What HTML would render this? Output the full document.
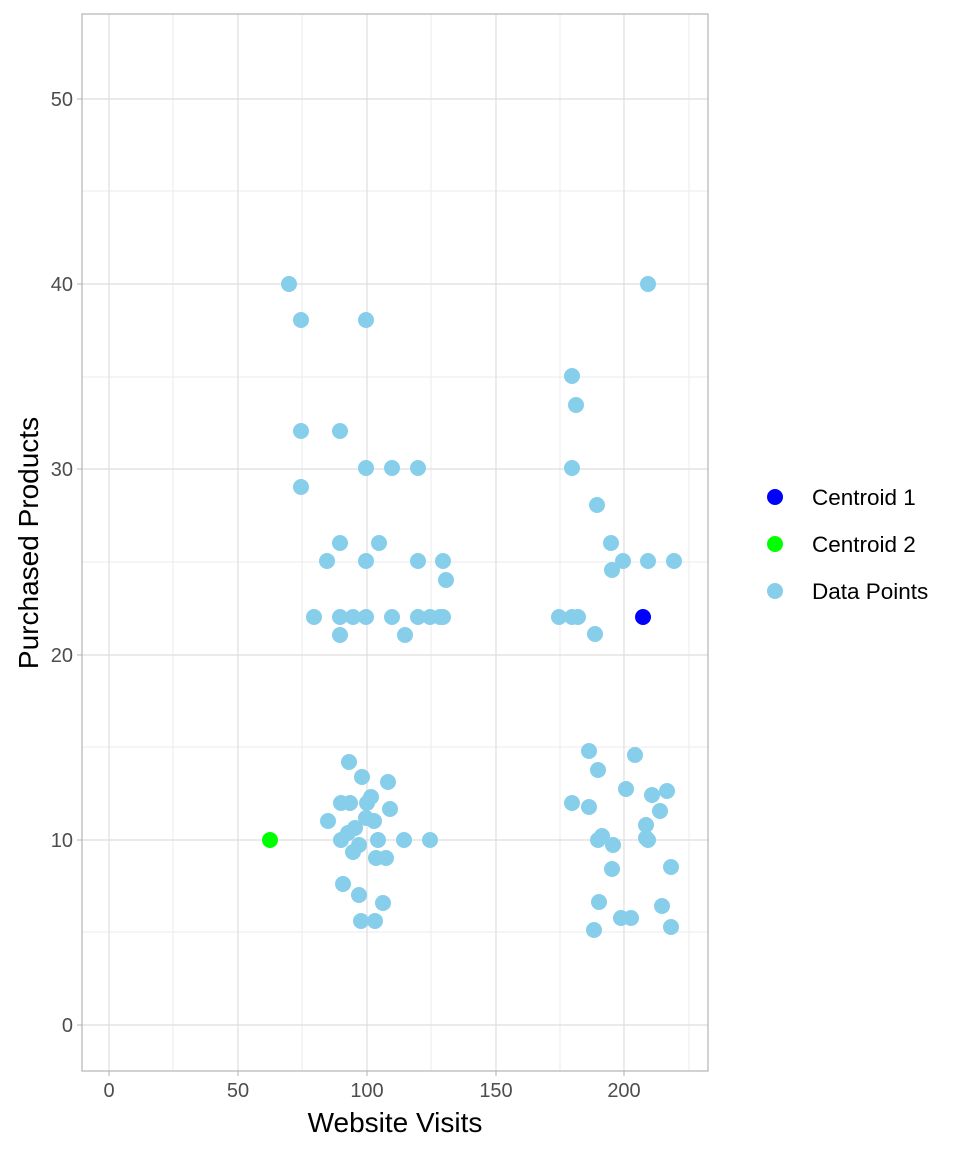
<!DOCTYPE html>
<html><head><meta charset="utf-8"><style>body{margin:0;background:#fff}</style></head><body>
<svg width="960" height="1152" xmlns="http://www.w3.org/2000/svg" font-family="Liberation Sans, sans-serif">
<rect width="960" height="1152" fill="#fff"/>
<g stroke="#ebebeb" stroke-width="1">
<line x1="82" x2="708" y1="932" y2="932"/><line x1="82" x2="708" y1="747" y2="747"/><line x1="82" x2="708" y1="562" y2="562"/><line x1="82" x2="708" y1="377" y2="377"/><line x1="82" x2="708" y1="191" y2="191"/>
<line y1="14" y2="1071" x1="173" x2="173"/><line y1="14" y2="1071" x1="302" x2="302"/><line y1="14" y2="1071" x1="431" x2="431"/><line y1="14" y2="1071" x1="560" x2="560"/><line y1="14" y2="1071" x1="689" x2="689"/>
</g>
<g stroke="#dedede" stroke-width="1.2">
<line x1="82" x2="708" y1="1025" y2="1025"/><line x1="82" x2="708" y1="840" y2="840"/><line x1="82" x2="708" y1="655" y2="655"/><line x1="82" x2="708" y1="469" y2="469"/><line x1="82" x2="708" y1="284" y2="284"/><line x1="82" x2="708" y1="99" y2="99"/>
<line y1="14" y2="1071" x1="109" x2="109"/><line y1="14" y2="1071" x1="238" x2="238"/><line y1="14" y2="1071" x1="367" x2="367"/><line y1="14" y2="1071" x1="496" x2="496"/><line y1="14" y2="1071" x1="624" x2="624"/>
</g>
<rect x="82" y="14" width="626" height="1057" fill="none" stroke="#b3b3b3" stroke-width="1.2"/>
<g stroke="#b3b3b3"><line x1="109" x2="109" y1="1071" y2="1076"/><line x1="238" x2="238" y1="1071" y2="1076"/><line x1="367" x2="367" y1="1071" y2="1076"/><line x1="496" x2="496" y1="1071" y2="1076"/><line x1="624" x2="624" y1="1071" y2="1076"/>
<line x1="77" x2="82" y1="1025" y2="1025"/><line x1="77" x2="82" y1="840" y2="840"/><line x1="77" x2="82" y1="655" y2="655"/><line x1="77" x2="82" y1="469" y2="469"/><line x1="77" x2="82" y1="284" y2="284"/><line x1="77" x2="82" y1="99" y2="99"/></g>
<g fill="#4d4d4d" font-size="20" text-anchor="middle">
<text x="109" y="1097">0</text><text x="238" y="1097">50</text><text x="367" y="1097">100</text><text x="496" y="1097">150</text><text x="624" y="1097">200</text>
</g>
<g fill="#4d4d4d" font-size="20" text-anchor="end">
<text x="73" y="1032">0</text><text x="73" y="847">10</text><text x="73" y="662">20</text><text x="73" y="476">30</text><text x="73" y="291">40</text><text x="73" y="106">50</text>
</g>
<text x="395" y="1132" font-size="28" text-anchor="middle">Website Visits</text>
<text transform="translate(38,543) rotate(-90)" font-size="28" text-anchor="middle">Purchased Products</text>
<g fill="#87ceeb">
<circle cx="289" cy="284" r="8"/><circle cx="301" cy="320" r="8"/><circle cx="366" cy="320" r="8"/><circle cx="301" cy="431" r="8"/><circle cx="340" cy="431" r="8"/><circle cx="301" cy="487" r="8"/><circle cx="366" cy="468" r="8"/><circle cx="392" cy="468" r="8"/><circle cx="418" cy="468" r="8"/><circle cx="327" cy="561" r="8"/><circle cx="340" cy="543" r="8"/><circle cx="379" cy="543" r="8"/><circle cx="366" cy="561" r="8"/><circle cx="418" cy="561" r="8"/><circle cx="443" cy="561" r="8"/><circle cx="446" cy="580" r="8"/><circle cx="314" cy="617" r="8"/><circle cx="340" cy="617" r="8"/><circle cx="353" cy="617" r="8"/><circle cx="366" cy="617" r="8"/><circle cx="392" cy="617" r="8"/><circle cx="418" cy="617" r="8"/><circle cx="430" cy="617" r="8"/><circle cx="440" cy="617" r="8"/><circle cx="443" cy="617" r="8"/><circle cx="340" cy="635" r="8"/><circle cx="405" cy="635" r="8"/>
<circle cx="572" cy="376" r="8"/><circle cx="576" cy="405" r="8"/><circle cx="572" cy="468" r="8"/><circle cx="597" cy="505" r="8"/><circle cx="611" cy="543" r="8"/><circle cx="612" cy="570" r="8"/><circle cx="623" cy="561" r="8"/><circle cx="648" cy="561" r="8"/><circle cx="674" cy="561" r="8"/><circle cx="648" cy="284" r="8"/><circle cx="559" cy="617" r="8"/><circle cx="572" cy="617" r="8"/><circle cx="578" cy="617" r="8"/><circle cx="595" cy="634" r="8"/>
<circle cx="349" cy="762" r="8"/><circle cx="362" cy="777" r="8"/><circle cx="388" cy="782" r="8"/><circle cx="341" cy="803" r="8"/><circle cx="350" cy="803" r="8"/><circle cx="367" cy="803" r="8"/><circle cx="371" cy="797" r="8"/><circle cx="390" cy="809" r="8"/><circle cx="328" cy="821" r="8"/><circle cx="366" cy="818" r="8"/><circle cx="374" cy="821" r="8"/><circle cx="355" cy="828" r="8"/><circle cx="348" cy="833" r="8"/><circle cx="341" cy="840" r="8"/><circle cx="378" cy="840" r="8"/><circle cx="404" cy="840" r="8"/><circle cx="430" cy="840" r="8"/><circle cx="359" cy="845" r="8"/><circle cx="353" cy="852" r="8"/><circle cx="376" cy="858" r="8"/><circle cx="386" cy="858" r="8"/><circle cx="343" cy="884" r="8"/><circle cx="359" cy="895" r="8"/><circle cx="383" cy="903" r="8"/><circle cx="361" cy="921" r="8"/><circle cx="375" cy="921" r="8"/>
<circle cx="589" cy="751" r="8"/><circle cx="598" cy="770" r="8"/><circle cx="635" cy="755" r="8"/><circle cx="572" cy="803" r="8"/><circle cx="589" cy="807" r="8"/><circle cx="626" cy="789" r="8"/><circle cx="652" cy="795" r="8"/><circle cx="667" cy="791" r="8"/><circle cx="660" cy="811" r="8"/><circle cx="646" cy="825" r="8"/><circle cx="602" cy="836" r="8"/><circle cx="598" cy="840" r="8"/><circle cx="613" cy="845" r="8"/><circle cx="646" cy="838" r="8"/><circle cx="648" cy="840" r="8"/><circle cx="612" cy="869" r="8"/><circle cx="671" cy="867" r="8"/><circle cx="599" cy="902" r="8"/><circle cx="621" cy="918" r="8"/><circle cx="631" cy="918" r="8"/><circle cx="662" cy="906" r="8"/><circle cx="594" cy="930" r="8"/><circle cx="671" cy="927" r="8"/>
</g>
<circle cx="643" cy="617" r="8" fill="#0000ff"/>
<circle cx="270" cy="840" r="8" fill="#00ff00"/>
<circle cx="775" cy="497" r="8" fill="#0000ff"/>
<circle cx="775" cy="544" r="8" fill="#00ff00"/>
<circle cx="775" cy="591" r="8" fill="#87ceeb"/>
<g font-size="22.5" fill="#000">
<text x="812" y="505">Centroid 1</text><text x="812" y="552">Centroid 2</text><text x="812" y="599">Data Points</text>
</g>
</svg>
</body></html>
